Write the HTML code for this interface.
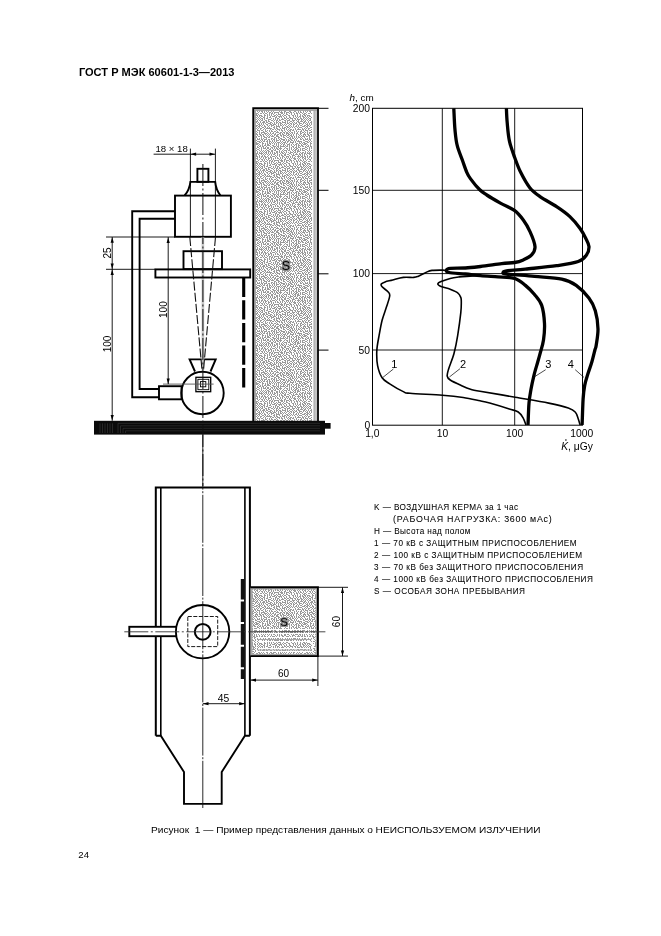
<!DOCTYPE html>
<html><head><meta charset="utf-8">
<style>
html,body{margin:0;padding:0;background:#fff;}
body{width:661px;height:936px;overflow:hidden;}
svg{display:block;will-change:transform;font-family:"Liberation Sans",sans-serif;}
text{fill:#000;}
</style></head><body>
<svg width="661" height="936" viewBox="0 0 661 936">
<defs>
<pattern id="dith" x="0" y="0" width="48" height="48" patternUnits="userSpaceOnUse">
<rect width="48" height="48" fill="#fff"/>
<path fill="#999999" d="M0 0h2v1h-2zM3 0h1v1h-1zM5 0h1v1h-1zM7 0h2v1h-2zM10 0h1v1h-1zM13 0h1v1h-1zM15 0h3v1h-3zM19 0h1v1h-1zM22 0h1v1h-1zM25 0h1v1h-1zM27 0h2v1h-2zM30 0h1v1h-1zM34 0h1v1h-1zM36 0h1v1h-1zM38 0h1v1h-1zM41 0h1v1h-1zM43 0h2v1h-2zM47 0h1v1h-1zM1 1h1v1h-1zM3 1h1v1h-1zM6 1h1v1h-1zM8 1h1v1h-1zM10 1h2v1h-2zM13 1h2v1h-2zM18 1h1v1h-1zM20 1h1v1h-1zM22 1h1v1h-1zM24 1h2v1h-2zM27 1h3v1h-3zM32 1h2v1h-2zM36 1h1v1h-1zM38 1h1v1h-1zM40 1h1v1h-1zM43 1h1v1h-1zM45 1h1v1h-1zM47 1h1v1h-1zM1 2h1v1h-1zM4 2h2v1h-2zM8 2h1v1h-1zM10 2h1v1h-1zM12 2h1v1h-1zM14 2h2v1h-2zM17 2h1v1h-1zM19 2h2v1h-2zM22 2h2v1h-2zM26 2h1v1h-1zM30 2h1v1h-1zM33 2h3v1h-3zM37 2h2v1h-2zM40 2h5v1h-5zM46 2h2v1h-2zM1 3h1v1h-1zM3 3h1v1h-1zM5 3h1v1h-1zM7 3h2v1h-2zM10 3h2v1h-2zM17 3h2v1h-2zM21 3h1v1h-1zM23 3h1v1h-1zM25 3h1v1h-1zM27 3h2v1h-2zM31 3h2v1h-2zM34 3h1v1h-1zM36 3h1v1h-1zM38 3h1v1h-1zM40 3h1v1h-1zM45 3h1v1h-1zM1 4h1v1h-1zM3 4h1v1h-1zM6 4h1v1h-1zM8 4h2v1h-2zM12 4h1v1h-1zM14 4h3v1h-3zM19 4h1v1h-1zM21 4h1v1h-1zM23 4h3v1h-3zM27 4h2v1h-2zM30 4h1v1h-1zM32 4h1v1h-1zM34 4h1v1h-1zM36 4h2v1h-2zM39 4h3v1h-3zM44 4h1v1h-1zM46 4h2v1h-2zM1 5h1v1h-1zM3 5h1v1h-1zM5 5h1v1h-1zM7 5h2v1h-2zM10 5h1v1h-1zM12 5h1v1h-1zM14 5h1v1h-1zM17 5h2v1h-2zM21 5h1v1h-1zM26 5h1v1h-1zM29 5h2v1h-2zM33 5h1v1h-1zM35 5h1v1h-1zM37 5h2v1h-2zM40 5h1v1h-1zM43 5h1v1h-1zM47 5h1v1h-1zM0 6h2v1h-2zM4 6h1v1h-1zM6 6h2v1h-2zM9 6h2v1h-2zM12 6h1v1h-1zM14 6h3v1h-3zM19 6h1v1h-1zM21 6h1v1h-1zM23 6h1v1h-1zM25 6h1v1h-1zM27 6h2v1h-2zM31 6h2v1h-2zM34 6h2v1h-2zM39 6h1v1h-1zM42 6h1v1h-1zM44 6h3v1h-3zM2 7h1v1h-1zM5 7h1v1h-1zM7 7h1v1h-1zM9 7h3v1h-3zM17 7h1v1h-1zM20 7h1v1h-1zM22 7h1v1h-1zM24 7h1v1h-1zM26 7h1v1h-1zM28 7h2v1h-2zM31 7h2v1h-2zM36 7h2v1h-2zM39 7h1v1h-1zM41 7h1v1h-1zM43 7h1v1h-1zM46 7h1v1h-1zM0 8h1v1h-1zM2 8h3v1h-3zM6 8h2v1h-2zM9 8h1v1h-1zM12 8h1v1h-1zM14 8h2v1h-2zM17 8h1v1h-1zM19 8h1v1h-1zM21 8h1v1h-1zM23 8h1v1h-1zM25 8h2v1h-2zM28 8h1v1h-1zM30 8h1v1h-1zM32 8h1v1h-1zM34 8h1v1h-1zM36 8h2v1h-2zM39 8h1v1h-1zM41 8h2v1h-2zM44 8h1v1h-1zM46 8h1v1h-1zM1 9h2v1h-2zM5 9h1v1h-1zM8 9h1v1h-1zM11 9h1v1h-1zM13 9h2v1h-2zM16 9h2v1h-2zM19 9h4v1h-4zM24 9h1v1h-1zM26 9h1v1h-1zM28 9h1v1h-1zM30 9h1v1h-1zM32 9h1v1h-1zM34 9h2v1h-2zM37 9h1v1h-1zM40 9h1v1h-1zM42 9h2v1h-2zM45 9h1v1h-1zM0 10h1v1h-1zM3 10h1v1h-1zM5 10h1v1h-1zM7 10h3v1h-3zM11 10h2v1h-2zM14 10h1v1h-1zM16 10h1v1h-1zM18 10h1v1h-1zM21 10h1v1h-1zM23 10h1v1h-1zM25 10h1v1h-1zM27 10h1v1h-1zM29 10h1v1h-1zM31 10h1v1h-1zM33 10h2v1h-2zM37 10h1v1h-1zM39 10h1v1h-1zM41 10h1v1h-1zM44 10h2v1h-2zM47 10h1v1h-1zM1 11h1v1h-1zM4 11h3v1h-3zM10 11h1v1h-1zM12 11h1v1h-1zM14 11h1v1h-1zM16 11h1v1h-1zM19 11h1v1h-1zM22 11h1v1h-1zM24 11h1v1h-1zM28 11h1v1h-1zM31 11h1v1h-1zM35 11h1v1h-1zM37 11h1v1h-1zM39 11h1v1h-1zM41 11h2v1h-2zM44 11h2v1h-2zM0 12h1v1h-1zM2 12h1v1h-1zM4 12h1v1h-1zM7 12h1v1h-1zM9 12h3v1h-3zM13 12h2v1h-2zM16 12h2v1h-2zM19 12h1v1h-1zM21 12h2v1h-2zM24 12h2v1h-2zM27 12h1v1h-1zM30 12h1v1h-1zM32 12h3v1h-3zM36 12h1v1h-1zM39 12h1v1h-1zM42 12h2v1h-2zM46 12h2v1h-2zM0 13h1v1h-1zM2 13h1v1h-1zM4 13h1v1h-1zM6 13h1v1h-1zM10 13h1v1h-1zM12 13h1v1h-1zM14 13h2v1h-2zM17 13h1v1h-1zM19 13h1v1h-1zM21 13h1v1h-1zM23 13h1v1h-1zM25 13h2v1h-2zM28 13h1v1h-1zM30 13h2v1h-2zM35 13h1v1h-1zM37 13h1v1h-1zM40 13h1v1h-1zM42 13h1v1h-1zM44 13h1v1h-1zM46 13h1v1h-1zM1 14h1v1h-1zM3 14h1v1h-1zM5 14h3v1h-3zM9 14h1v1h-1zM11 14h1v1h-1zM14 14h1v1h-1zM16 14h2v1h-2zM20 14h1v1h-1zM23 14h1v1h-1zM25 14h1v1h-1zM28 14h2v1h-2zM31 14h1v1h-1zM33 14h1v1h-1zM35 14h1v1h-1zM37 14h2v1h-2zM40 14h1v1h-1zM42 14h1v1h-1zM45 14h1v1h-1zM47 14h1v1h-1zM1 15h2v1h-2zM6 15h2v1h-2zM10 15h1v1h-1zM12 15h1v1h-1zM15 15h1v1h-1zM17 15h1v1h-1zM19 15h1v1h-1zM21 15h2v1h-2zM24 15h1v1h-1zM26 15h1v1h-1zM28 15h1v1h-1zM31 15h1v1h-1zM33 15h1v1h-1zM39 15h1v1h-1zM41 15h1v1h-1zM44 15h2v1h-2zM0 16h1v1h-1zM2 16h2v1h-2zM5 16h1v1h-1zM8 16h1v1h-1zM10 16h1v1h-1zM12 16h2v1h-2zM15 16h1v1h-1zM18 16h1v1h-1zM22 16h1v1h-1zM24 16h1v1h-1zM27 16h1v1h-1zM29 16h2v1h-2zM32 16h1v1h-1zM34 16h5v1h-5zM40 16h3v1h-3zM44 16h1v1h-1zM46 16h2v1h-2zM1 17h1v1h-1zM3 17h1v1h-1zM6 17h1v1h-1zM8 17h2v1h-2zM11 17h1v1h-1zM14 17h1v1h-1zM16 17h2v1h-2zM20 17h2v1h-2zM23 17h1v1h-1zM25 17h2v1h-2zM29 17h1v1h-1zM31 17h2v1h-2zM34 17h1v1h-1zM38 17h1v1h-1zM41 17h2v1h-2zM44 17h1v1h-1zM46 17h1v1h-1zM3 18h1v1h-1zM6 18h1v1h-1zM9 18h1v1h-1zM12 18h1v1h-1zM15 18h2v1h-2zM18 18h1v1h-1zM24 18h1v1h-1zM27 18h1v1h-1zM29 18h1v1h-1zM31 18h1v1h-1zM33 18h1v1h-1zM36 18h1v1h-1zM38 18h3v1h-3zM43 18h1v1h-1zM46 18h2v1h-2zM0 19h2v1h-2zM4 19h2v1h-2zM7 19h1v1h-1zM9 19h1v1h-1zM12 19h1v1h-1zM14 19h1v1h-1zM16 19h2v1h-2zM19 19h3v1h-3zM24 19h2v1h-2zM27 19h1v1h-1zM29 19h1v1h-1zM31 19h1v1h-1zM34 19h2v1h-2zM37 19h1v1h-1zM40 19h1v1h-1zM42 19h1v1h-1zM44 19h2v1h-2zM1 20h1v1h-1zM5 20h1v1h-1zM7 20h1v1h-1zM9 20h1v1h-1zM11 20h2v1h-2zM14 20h2v1h-2zM17 20h1v1h-1zM19 20h1v1h-1zM21 20h2v1h-2zM24 20h1v1h-1zM27 20h1v1h-1zM30 20h1v1h-1zM32 20h3v1h-3zM36 20h1v1h-1zM38 20h4v1h-4zM43 20h1v1h-1zM46 20h1v1h-1zM1 21h2v1h-2zM5 21h1v1h-1zM8 21h1v1h-1zM10 21h1v1h-1zM12 21h1v1h-1zM15 21h2v1h-2zM18 21h1v1h-1zM20 21h1v1h-1zM23 21h2v1h-2zM27 21h1v1h-1zM29 21h2v1h-2zM35 21h2v1h-2zM39 21h1v1h-1zM41 21h1v1h-1zM44 21h1v1h-1zM46 21h1v1h-1zM0 22h1v1h-1zM2 22h3v1h-3zM6 22h2v1h-2zM9 22h1v1h-1zM12 22h2v1h-2zM15 22h1v1h-1zM17 22h1v1h-1zM19 22h1v1h-1zM21 22h2v1h-2zM24 22h1v1h-1zM26 22h2v1h-2zM31 22h1v1h-1zM33 22h1v1h-1zM35 22h1v1h-1zM37 22h2v1h-2zM42 22h1v1h-1zM44 22h2v1h-2zM47 22h1v1h-1zM1 23h1v1h-1zM4 23h1v1h-1zM7 23h1v1h-1zM9 23h3v1h-3zM13 23h2v1h-2zM16 23h1v1h-1zM18 23h1v1h-1zM20 23h1v1h-1zM22 23h1v1h-1zM24 23h1v1h-1zM28 23h3v1h-3zM33 23h1v1h-1zM35 23h1v1h-1zM37 23h1v1h-1zM39 23h1v1h-1zM41 23h3v1h-3zM46 23h1v1h-1zM0 24h2v1h-2zM4 24h3v1h-3zM8 24h1v1h-1zM10 24h1v1h-1zM13 24h1v1h-1zM15 24h1v1h-1zM17 24h1v1h-1zM19 24h1v1h-1zM21 24h2v1h-2zM25 24h2v1h-2zM28 24h1v1h-1zM31 24h2v1h-2zM34 24h1v1h-1zM36 24h2v1h-2zM39 24h2v1h-2zM44 24h2v1h-2zM47 24h1v1h-1zM2 25h2v1h-2zM5 25h1v1h-1zM9 25h2v1h-2zM12 25h3v1h-3zM16 25h2v1h-2zM20 25h1v1h-1zM23 25h2v1h-2zM26 25h1v1h-1zM28 25h2v1h-2zM33 25h1v1h-1zM36 25h1v1h-1zM38 25h1v1h-1zM42 25h1v1h-1zM45 25h1v1h-1zM47 25h1v1h-1zM1 26h1v1h-1zM4 26h1v1h-1zM6 26h1v1h-1zM8 26h1v1h-1zM10 26h2v1h-2zM15 26h2v1h-2zM18 26h1v1h-1zM20 26h1v1h-1zM22 26h3v1h-3zM26 26h2v1h-2zM30 26h2v1h-2zM34 26h1v1h-1zM36 26h2v1h-2zM39 26h2v1h-2zM42 26h4v1h-4zM47 26h1v1h-1zM0 27h1v1h-1zM2 27h2v1h-2zM5 27h1v1h-1zM7 27h2v1h-2zM11 27h3v1h-3zM15 27h1v1h-1zM17 27h1v1h-1zM19 27h1v1h-1zM21 27h1v1h-1zM23 27h1v1h-1zM25 27h1v1h-1zM28 27h3v1h-3zM32 27h1v1h-1zM34 27h1v1h-1zM36 27h1v1h-1zM38 27h1v1h-1zM40 27h2v1h-2zM45 27h1v1h-1zM47 27h1v1h-1zM1 28h1v1h-1zM3 28h1v1h-1zM5 28h2v1h-2zM9 28h1v1h-1zM11 28h1v1h-1zM14 28h1v1h-1zM18 28h2v1h-2zM21 28h1v1h-1zM23 28h1v1h-1zM26 28h2v1h-2zM30 28h2v1h-2zM33 28h3v1h-3zM38 28h1v1h-1zM40 28h1v1h-1zM42 28h1v1h-1zM44 28h1v1h-1zM46 28h1v1h-1zM0 29h1v1h-1zM2 29h1v1h-1zM5 29h1v1h-1zM8 29h1v1h-1zM10 29h1v1h-1zM12 29h2v1h-2zM16 29h2v1h-2zM19 29h2v1h-2zM22 29h1v1h-1zM24 29h1v1h-1zM27 29h1v1h-1zM29 29h1v1h-1zM31 29h3v1h-3zM36 29h1v1h-1zM38 29h1v1h-1zM40 29h2v1h-2zM43 29h1v1h-1zM45 29h1v1h-1zM1 30h1v1h-1zM3 30h1v1h-1zM5 30h1v1h-1zM7 30h2v1h-2zM10 30h1v1h-1zM14 30h3v1h-3zM18 30h2v1h-2zM21 30h1v1h-1zM24 30h2v1h-2zM28 30h1v1h-1zM31 30h1v1h-1zM34 30h1v1h-1zM36 30h4v1h-4zM42 30h1v1h-1zM46 30h2v1h-2zM0 31h1v1h-1zM2 31h1v1h-1zM4 31h1v1h-1zM6 31h1v1h-1zM9 31h1v1h-1zM11 31h3v1h-3zM17 31h1v1h-1zM19 31h1v1h-1zM22 31h2v1h-2zM25 31h1v1h-1zM27 31h1v1h-1zM29 31h1v1h-1zM33 31h2v1h-2zM36 31h1v1h-1zM39 31h1v1h-1zM42 31h1v1h-1zM44 31h2v1h-2zM47 31h1v1h-1zM1 32h1v1h-1zM7 32h1v1h-1zM10 32h1v1h-1zM14 32h1v1h-1zM16 32h1v1h-1zM18 32h1v1h-1zM20 32h2v1h-2zM24 32h1v1h-1zM26 32h6v1h-6zM34 32h1v1h-1zM36 32h2v1h-2zM40 32h1v1h-1zM42 32h3v1h-3zM46 32h1v1h-1zM0 33h1v1h-1zM2 33h2v1h-2zM5 33h1v1h-1zM7 33h1v1h-1zM9 33h4v1h-4zM14 33h2v1h-2zM17 33h1v1h-1zM20 33h1v1h-1zM23 33h1v1h-1zM25 33h1v1h-1zM30 33h1v1h-1zM32 33h2v1h-2zM35 33h1v1h-1zM37 33h3v1h-3zM41 33h1v1h-1zM44 33h1v1h-1zM46 33h1v1h-1zM1 34h2v1h-2zM4 34h2v1h-2zM8 34h1v1h-1zM13 34h1v1h-1zM15 34h1v1h-1zM17 34h3v1h-3zM21 34h2v1h-2zM25 34h1v1h-1zM27 34h1v1h-1zM29 34h1v1h-1zM31 34h1v1h-1zM36 34h1v1h-1zM39 34h1v1h-1zM41 34h2v1h-2zM44 34h1v1h-1zM47 34h1v1h-1zM0 35h1v1h-1zM2 35h1v1h-1zM6 35h1v1h-1zM8 35h1v1h-1zM10 35h1v1h-1zM12 35h2v1h-2zM16 35h1v1h-1zM19 35h1v1h-1zM23 35h1v1h-1zM25 35h2v1h-2zM29 35h1v1h-1zM31 35h2v1h-2zM34 35h2v1h-2zM37 35h1v1h-1zM42 35h1v1h-1zM45 35h1v1h-1zM1 36h1v1h-1zM3 36h2v1h-2zM6 36h1v1h-1zM9 36h1v1h-1zM12 36h1v1h-1zM14 36h2v1h-2zM17 36h1v1h-1zM19 36h1v1h-1zM21 36h4v1h-4zM27 36h1v1h-1zM30 36h1v1h-1zM33 36h1v1h-1zM36 36h3v1h-3zM40 36h2v1h-2zM43 36h2v1h-2zM46 36h2v1h-2zM0 37h1v1h-1zM2 37h1v1h-1zM4 37h1v1h-1zM6 37h1v1h-1zM8 37h2v1h-2zM12 37h2v1h-2zM16 37h1v1h-1zM19 37h1v1h-1zM21 37h1v1h-1zM24 37h3v1h-3zM28 37h1v1h-1zM30 37h1v1h-1zM32 37h2v1h-2zM35 37h1v1h-1zM39 37h2v1h-2zM42 37h1v1h-1zM44 37h1v1h-1zM46 37h2v1h-2zM0 38h2v1h-2zM3 38h1v1h-1zM5 38h1v1h-1zM8 38h1v1h-1zM10 38h1v1h-1zM12 38h1v1h-1zM15 38h3v1h-3zM19 38h2v1h-2zM22 38h2v1h-2zM25 38h1v1h-1zM27 38h1v1h-1zM29 38h1v1h-1zM31 38h1v1h-1zM34 38h2v1h-2zM37 38h2v1h-2zM40 38h1v1h-1zM42 38h2v1h-2zM46 38h1v1h-1zM0 39h1v1h-1zM2 39h2v1h-2zM5 39h1v1h-1zM8 39h1v1h-1zM11 39h1v1h-1zM13 39h1v1h-1zM15 39h1v1h-1zM17 39h1v1h-1zM20 39h2v1h-2zM23 39h1v1h-1zM26 39h1v1h-1zM28 39h1v1h-1zM30 39h1v1h-1zM32 39h1v1h-1zM34 39h1v1h-1zM36 39h2v1h-2zM40 39h2v1h-2zM43 39h3v1h-3zM47 39h1v1h-1zM1 40h1v1h-1zM3 40h2v1h-2zM6 40h1v1h-1zM8 40h1v1h-1zM10 40h1v1h-1zM12 40h1v1h-1zM14 40h3v1h-3zM18 40h2v1h-2zM21 40h1v1h-1zM23 40h2v1h-2zM27 40h1v1h-1zM29 40h1v1h-1zM31 40h3v1h-3zM36 40h3v1h-3zM41 40h1v1h-1zM43 40h1v1h-1zM46 40h1v1h-1zM0 41h1v1h-1zM2 41h1v1h-1zM4 41h1v1h-1zM6 41h1v1h-1zM8 41h1v1h-1zM10 41h2v1h-2zM13 41h1v1h-1zM16 41h1v1h-1zM21 41h1v1h-1zM24 41h3v1h-3zM28 41h2v1h-2zM34 41h2v1h-2zM38 41h2v1h-2zM43 41h2v1h-2zM47 41h1v1h-1zM1 42h2v1h-2zM4 42h2v1h-2zM7 42h1v1h-1zM9 42h1v1h-1zM12 42h1v1h-1zM14 42h1v1h-1zM17 42h1v1h-1zM19 42h1v1h-1zM21 42h1v1h-1zM23 42h1v1h-1zM26 42h1v1h-1zM31 42h2v1h-2zM34 42h1v1h-1zM36 42h1v1h-1zM38 42h1v1h-1zM40 42h2v1h-2zM45 42h1v1h-1zM0 43h1v1h-1zM2 43h2v1h-2zM6 43h1v1h-1zM8 43h1v1h-1zM12 43h2v1h-2zM15 43h1v1h-1zM17 43h3v1h-3zM21 43h2v1h-2zM24 43h3v1h-3zM28 43h2v1h-2zM31 43h1v1h-1zM33 43h2v1h-2zM36 43h1v1h-1zM39 43h1v1h-1zM41 43h4v1h-4zM46 43h1v1h-1zM0 44h2v1h-2zM3 44h2v1h-2zM6 44h1v1h-1zM8 44h1v1h-1zM10 44h1v1h-1zM15 44h2v1h-2zM20 44h1v1h-1zM22 44h1v1h-1zM24 44h1v1h-1zM27 44h1v1h-1zM29 44h1v1h-1zM32 44h1v1h-1zM34 44h1v1h-1zM36 44h3v1h-3zM40 44h1v1h-1zM43 44h2v1h-2zM46 44h1v1h-1zM0 45h1v1h-1zM2 45h1v1h-1zM5 45h1v1h-1zM7 45h1v1h-1zM9 45h5v1h-5zM17 45h3v1h-3zM21 45h1v1h-1zM23 45h2v1h-2zM26 45h2v1h-2zM29 45h2v1h-2zM32 45h1v1h-1zM34 45h1v1h-1zM36 45h1v1h-1zM40 45h1v1h-1zM42 45h1v1h-1zM45 45h1v1h-1zM47 45h1v1h-1zM2 46h4v1h-4zM7 46h1v1h-1zM11 46h1v1h-1zM13 46h1v1h-1zM15 46h2v1h-2zM19 46h2v1h-2zM22 46h1v1h-1zM27 46h1v1h-1zM29 46h1v1h-1zM31 46h1v1h-1zM33 46h1v1h-1zM35 46h1v1h-1zM37 46h3v1h-3zM41 46h1v1h-1zM43 46h3v1h-3zM47 46h1v1h-1zM1 47h1v1h-1zM4 47h1v1h-1zM8 47h2v1h-2zM11 47h2v1h-2zM14 47h1v1h-1zM16 47h3v1h-3zM22 47h2v1h-2zM25 47h1v1h-1zM27 47h1v1h-1zM29 47h2v1h-2zM32 47h1v1h-1zM34 47h1v1h-1zM36 47h1v1h-1zM38 47h1v1h-1zM40 47h1v1h-1zM42 47h1v1h-1zM44 47h1v1h-1zM46 47h1v1h-1z"/>
</pattern>
</defs>
<text x="78.9" y="76.3" font-size="11.1" font-weight="bold" textLength="155.6" lengthAdjust="spacingAndGlyphs">ГОСТ Р МЭК 60601-1-3—2013</text>
<text x="78.3" y="857.9" font-size="9.6">24</text>
<text x="151" y="833.4" font-size="8.8" textLength="222" lengthAdjust="spacingAndGlyphs" xml:space="preserve">Рисунок  1 — Пример представления данных о</text>
<text x="375.6" y="833.4" font-size="8.8" textLength="165" lengthAdjust="spacingAndGlyphs">НЕИСПОЛЬЗУЕМОМ ИЗЛУЧЕНИИ</text>
<rect x="254" y="109" width="63" height="312" fill="#a6a6a6"/>
<rect x="256" y="111" width="56" height="310" fill="url(#dith)"/>
<rect x="312" y="111" width="1.5" height="310" fill="#fff"/>
<rect x="314.5" y="111" width="2.5" height="310" fill="#c4c4c4"/>
<path d="M253.2,421 V108.2 H318 V421" fill="none" stroke="#000" stroke-width="1.8"/>
<line x1="318" y1="108.3" x2="328.5" y2="108.3" stroke="#000" stroke-width="1"/>
<line x1="318" y1="190.3" x2="328.5" y2="190.3" stroke="#000" stroke-width="1"/>
<line x1="318" y1="273.8" x2="328.5" y2="273.8" stroke="#000" stroke-width="1"/>
<line x1="318" y1="350.1" x2="328.5" y2="350.1" stroke="#000" stroke-width="1"/>
<text x="281.8" y="269.5" font-size="12.5" fill="#000" stroke="#8a8a8a" stroke-width="2.4" paint-order="stroke" stroke-linejoin="round">S</text>
<rect x="94" y="420.8" width="231" height="13.8" fill="#0a0a0a"/>
<rect x="324" y="423" width="6.6" height="5.7" fill="#0a0a0a"/>
<path d="M118.0,423.3 H320 M118.0,423.3 V433 M120.5,425.8 H320 M120.5,425.8 V433 M123.0,428.3 H320 M123.0,428.3 V433 M125.5,430.8 H320 M125.5,430.8 V433 M100.0,423.3 V433 M102.5,423.3 V433 M105.0,423.3 V433 M107.5,423.3 V433 M110.0,423.3 V433 M112.5,423.3 V433" stroke="#3a3a3a" stroke-width="0.6" fill="none"/>
<rect x="197.4" y="168.8" width="11" height="13" stroke="#000" stroke-width="1.9" fill="none"/>
<path d="M184.6,195.5 Q189.5,190 190.4,181.9 H215.2 Q216,190 220.5,195.5" stroke="#000" stroke-width="1.9" fill="none"/>
<rect x="175" y="195.6" width="55.9" height="41.2" stroke="#000" stroke-width="1.9" fill="none"/>
<path d="M175,211.2 H132.2 V397.3 H159" stroke="#000" stroke-width="1.9" fill="none"/>
<path d="M175,218.7 H139.6 V389 H159" stroke="#000" stroke-width="1.9" fill="none"/>
<rect x="159" y="386.2" width="22.6" height="13.1" stroke="#000" stroke-width="1.9" fill="none"/>
<circle cx="202.5" cy="393" r="21.2" stroke="#000" stroke-width="1.9" fill="none"/>
<path d="M195,371.5 L189.6,359.4 H215.7 L210.5,371.5" stroke="#000" stroke-width="1.9" fill="none"/>
<rect x="195.9" y="377.3" width="14.8" height="14.4" stroke="#000" stroke-width="1.3" fill="none"/>
<rect x="197.9" y="379.3" width="10.9" height="10.4" stroke="#000" stroke-width="0.9" fill="none"/>
<rect x="200.5" y="381.6" width="5.3" height="5.2" stroke="#000" stroke-width="0.9" fill="none"/>
<line x1="163" y1="384.1" x2="213.6" y2="384.1" stroke="#555" stroke-width="0.9"/>
<line x1="202.9" y1="237" x2="202.9" y2="370" stroke="#c8c8c8" stroke-width="2.6"/>
<rect x="183.5" y="251.2" width="38.5" height="17.9" stroke="#000" stroke-width="1.9" fill="none"/>
<rect x="155.4" y="269.4" width="94.8" height="8.1" stroke="#000" stroke-width="1.9" fill="none"/>
<line x1="190.4" y1="148.6" x2="190.4" y2="237" stroke="#000" stroke-width="0.9" fill="none"/>
<line x1="215.4" y1="148.6" x2="215.4" y2="237" stroke="#000" stroke-width="0.9" fill="none"/>
<line x1="189.8" y1="237" x2="202" y2="370" stroke="#111" stroke-width="1.1" stroke-dasharray="9 2.2"/>
<line x1="215.5" y1="237" x2="203.5" y2="370" stroke="#111" stroke-width="1.1" stroke-dasharray="9 2.2"/>
<line x1="202.9" y1="164" x2="202.9" y2="486" stroke="#111" stroke-width="1" stroke-dasharray="22 2.5 2 2.5"/>
<line x1="243.7" y1="277.7" x2="243.7" y2="388" stroke="#000" stroke-width="3.1" stroke-dasharray="19.3 3.3"/>
<line x1="153.6" y1="154.2" x2="215.2" y2="154.2" stroke="#000" stroke-width="0.9" fill="none"/>
<polygon points="190.6,154.2 196.1,152.6 196.1,155.8" fill="#000"/>
<polygon points="215.0,154.2 209.5,152.6 209.5,155.8" fill="#000"/>
<text x="155.5" y="151.8" font-size="9.6">18 × 18</text>
<line x1="106" y1="237" x2="175" y2="237" stroke="#000" stroke-width="0.9" fill="none"/>
<line x1="106" y1="269.3" x2="155.4" y2="269.3" stroke="#000" stroke-width="0.9" fill="none"/>
<line x1="112.2" y1="237" x2="112.2" y2="420.8" stroke="#000" stroke-width="0.9" fill="none"/>
<polygon points="112.2,237.2 110.6,242.7 113.8,242.7" fill="#000"/>
<polygon points="112.2,269.1 110.6,263.6 113.8,263.6" fill="#000"/>
<polygon points="112.2,269.6 110.6,275.1 113.8,275.1" fill="#000"/>
<polygon points="112.2,420.6 110.6,415.1 113.8,415.1" fill="#000"/>
<line x1="168.2" y1="237" x2="168.2" y2="384.1" stroke="#000" stroke-width="0.9" fill="none"/>
<polygon points="168.2,237.4 166.6,242.9 169.8,242.9" fill="#000"/>
<polygon points="168.2,384.0 166.6,378.5 169.8,378.5" fill="#000"/>
<text transform="translate(111,253) rotate(-90)" font-size="10" text-anchor="middle">25</text>
<text transform="translate(111,344) rotate(-90)" font-size="10" text-anchor="middle">100</text>
<text transform="translate(166.5,309.6) rotate(-90)" font-size="10" text-anchor="middle">100</text>
<rect x="372.5" y="108.3" width="210" height="316.9" fill="none" stroke="#000" stroke-width="1"/>
<line x1="442.3" y1="108.3" x2="442.3" y2="425.2" stroke="#000" stroke-width="0.9"/>
<line x1="514.7" y1="108.3" x2="514.7" y2="425.2" stroke="#000" stroke-width="0.9"/>
<line x1="372.5" y1="190.3" x2="582.5" y2="190.3" stroke="#000" stroke-width="0.9"/>
<line x1="372.5" y1="273.6" x2="582.5" y2="273.6" stroke="#000" stroke-width="0.9"/>
<line x1="372.5" y1="350.0" x2="582.5" y2="350.0" stroke="#000" stroke-width="0.9"/>
<path d="M453.8,108.3 C454.0,111.9 454.4,123.8 455.0,130.0 C455.6,136.2 455.9,140.3 457.2,145.4 C458.4,150.5 460.9,156.0 462.5,160.5 C464.1,165.0 465.5,169.3 466.8,172.3 C468.1,175.3 468.3,175.7 470.4,178.6 C472.5,181.5 476.8,186.8 479.5,189.5 C482.2,192.2 483.3,192.7 486.8,195.0 C490.3,197.3 495.8,200.5 500.4,203.1 C505.0,205.7 510.6,207.6 514.4,210.4 C518.2,213.2 520.7,216.5 523.3,220.0 C525.9,223.5 528.0,227.2 530.0,231.6 C532.0,236.0 534.7,242.7 535.0,246.6 C535.3,250.5 533.6,252.7 531.6,254.9 C529.6,257.1 526.1,258.6 523.3,259.9 C520.4,261.2 518.1,261.9 514.5,262.5 C510.9,263.1 507.4,262.9 501.7,263.6 C496.0,264.3 486.6,265.8 480.5,266.5 C474.4,267.2 470.4,267.7 465.4,268.0 C460.4,268.3 453.4,268.0 450.3,268.3 C447.2,268.6 446.7,269.3 446.5,270.0 C446.3,270.7 445.9,271.8 449.0,272.5 C452.1,273.2 460.1,273.5 465.4,274.0 C470.6,274.5 475.1,275.2 480.5,275.7 C485.9,276.2 492.3,276.4 498.0,276.8 C503.7,277.2 509.9,277.0 514.5,278.4 C519.1,279.8 522.1,282.7 525.4,285.4 C528.7,288.1 531.8,291.2 534.5,294.5 C537.2,297.8 540.0,300.6 541.7,305.4 C543.4,310.2 544.2,317.8 544.5,323.5 C544.8,329.2 544.2,335.1 543.5,339.9 C542.8,344.6 541.5,348.4 540.5,352.0 C539.5,355.6 538.9,357.9 537.8,361.8 C536.7,365.7 535.0,371.0 533.9,375.6 C532.8,380.2 531.8,384.7 531.0,389.3 C530.2,393.9 529.5,397.2 529.0,403.1 C528.5,409.1 528.2,421.4 528.0,425.0" fill="none" stroke="#000" stroke-width="3.3" stroke-linejoin="round"/>
<path d="M506.4,108.3 C506.5,110.7 506.7,117.3 507.2,122.7 C507.7,128.1 508.1,135.0 509.4,140.8 C510.6,146.6 512.8,152.2 514.7,157.5 C516.6,162.8 518.3,167.6 520.8,172.6 C523.3,177.6 526.6,183.7 529.8,187.7 C533.0,191.7 535.5,193.4 540.0,196.6 C544.5,199.8 551.6,203.3 556.6,206.6 C561.6,209.9 566.0,213.0 569.9,216.6 C573.8,220.2 577.3,224.7 579.9,228.3 C582.5,231.9 584.2,235.1 585.7,238.2 C587.2,241.2 588.9,243.8 589.0,246.6 C589.1,249.4 588.3,252.4 586.5,254.9 C584.7,257.4 583.2,259.7 578.2,261.5 C573.2,263.3 565.4,264.4 556.6,265.7 C547.8,267.0 533.8,268.2 525.4,269.1 C517.0,270.0 510.2,270.3 506.5,270.8 C502.8,271.3 503.3,271.8 503.3,272.3 C503.3,272.8 501.3,273.3 506.5,274.0 C511.7,274.7 525.3,275.4 534.5,276.3 C543.7,277.2 554.8,277.6 561.7,279.1 C568.7,280.6 571.7,282.2 576.2,285.4 C580.7,288.6 585.7,293.9 588.9,298.1 C592.1,302.3 593.8,305.7 595.3,310.8 C596.8,315.9 597.9,323.2 598.0,329.0 C598.1,334.8 596.7,341.8 596.2,345.3 C595.7,348.8 595.6,347.2 594.9,350.0 C594.2,352.8 593.0,357.9 591.9,361.8 C590.8,365.7 589.2,369.7 588.0,373.6 C586.8,377.5 585.5,381.1 584.7,385.4 C583.9,389.7 583.5,392.6 583.1,399.2 C582.7,405.8 582.3,420.7 582.1,425.0" fill="none" stroke="#000" stroke-width="3.3" stroke-linejoin="round"/>
<path d="M447.2,270.5 C446.4,270.4 445.1,270.1 442.6,270.1 C440.1,270.1 434.8,270.0 432.0,270.4 C429.2,270.8 428.3,271.4 426.0,272.4 C423.7,273.4 420.4,275.4 418.4,276.2 C416.4,277.0 416.4,277.2 413.9,277.4 C411.4,277.6 406.8,277.0 403.3,277.4 C399.8,277.8 395.7,279.2 392.7,280.0 C389.7,280.8 387.0,281.2 385.1,281.9 C383.2,282.6 381.8,283.2 381.3,284.0 C380.8,284.8 381.0,285.5 382.1,286.8 C383.2,288.1 386.9,290.5 388.2,292.0 C389.5,293.5 390.0,293.6 389.7,296.0 C389.4,298.4 387.9,302.6 386.6,306.6 C385.3,310.7 383.4,315.5 382.1,320.3 C380.9,325.1 380.0,330.4 379.1,335.4 C378.2,340.4 377.1,345.5 376.8,350.5 C376.6,355.5 376.7,361.1 377.6,365.6 C378.5,370.1 380.1,374.7 382.1,377.7 C384.1,380.7 386.2,381.5 389.7,383.8 C393.2,386.1 399.9,390.0 403.3,391.6 C406.7,393.2 403.5,392.7 410.0,393.3 C416.5,393.9 433.5,394.6 442.4,395.3 C451.3,396.0 456.9,396.6 463.2,397.5 C469.5,398.4 475.6,399.9 480.0,400.8 C484.4,401.7 484.8,401.7 489.7,403.1 C494.6,404.5 504.6,407.5 509.3,409.0 C514.1,410.5 515.9,410.5 518.2,412.0 C520.5,413.5 521.8,415.6 523.1,417.8 C524.4,420.0 525.5,423.8 526.0,425.0" fill="none" stroke="#000" stroke-width="1.6" stroke-linejoin="round"/>
<path d="M478.0,275.5 C476.7,275.6 473.1,276.0 470.0,276.2 C466.9,276.4 462.6,276.5 459.3,276.9 C456.0,277.3 453.2,277.6 450.2,278.4 C447.2,279.2 443.2,280.6 441.1,281.5 C439.0,282.4 437.8,283.2 437.8,284.0 C437.8,284.8 439.0,285.6 441.1,286.5 C443.2,287.4 447.4,288.2 450.2,289.3 C453.0,290.4 455.9,291.5 457.7,292.8 C459.5,294.1 460.2,295.9 460.8,297.4 C461.4,298.9 461.3,299.4 461.3,302.0 C461.3,304.6 461.4,307.1 460.8,312.7 C460.2,318.3 458.8,328.6 457.7,335.4 C456.6,342.2 455.5,347.9 454.0,353.5 C452.5,359.1 449.8,364.9 448.7,368.7 C447.6,372.5 446.9,374.3 447.2,376.2 C447.4,378.1 447.9,378.5 450.2,380.0 C452.5,381.5 457.5,383.8 460.8,385.3 C464.1,386.8 466.6,388.1 469.8,389.1 C473.0,390.1 472.4,390.0 480.0,391.3 C487.6,392.6 503.8,395.2 515.2,397.2 C526.7,399.2 539.9,401.3 548.7,403.1 C557.6,404.9 563.9,406.5 568.3,408.0 C572.7,409.5 573.6,410.2 575.2,412.0 C576.9,413.8 577.4,416.6 578.2,418.8 C579.0,421.0 579.8,424.0 580.1,425.0" fill="none" stroke="#000" stroke-width="1.6" stroke-linejoin="round"/>
<line x1="382.9" y1="377.4" x2="393.4" y2="369" stroke="#000" stroke-width="0.7"/>
<line x1="449.4" y1="377" x2="460" y2="368.7" stroke="#000" stroke-width="0.7"/>
<line x1="534.9" y1="376.5" x2="545.7" y2="369.7" stroke="#000" stroke-width="0.7"/>
<line x1="575.2" y1="369.7" x2="584.1" y2="377.5" stroke="#000" stroke-width="0.7"/>
<text x="391.2" y="368" font-size="11">1</text>
<text x="460.1" y="368" font-size="11">2</text>
<text x="545.3" y="368.2" font-size="11">3</text>
<text x="567.8" y="368.2" font-size="11">4</text>
<text x="370" y="111.8" font-size="10.3" text-anchor="end">200</text>
<text x="370" y="193.8" font-size="10.3" text-anchor="end">150</text>
<text x="370" y="277.1" font-size="10.3" text-anchor="end">100</text>
<text x="370" y="353.5" font-size="10.3" text-anchor="end">50</text>
<text x="370.3" y="428.8" font-size="10.3" text-anchor="end">0</text>
<text x="349.6" y="101" font-size="9.9"><tspan font-style="italic">h</tspan>, cm</text>
<text x="372.3" y="437.2" font-size="10.3" text-anchor="middle">1,0</text>
<text x="442.4" y="437.2" font-size="10.3" text-anchor="middle">10</text>
<text x="514.6" y="437.2" font-size="10.3" text-anchor="middle">100</text>
<text x="581.8" y="437.2" font-size="10.3" text-anchor="middle">1000</text>
<text x="561.2" y="449.7" font-size="10.3"><tspan font-style="italic">K</tspan>, μGy</text>
<circle cx="565.9" cy="440" r="0.8" fill="#000"/>
<text x="374.1" y="510.0" font-size="8.2" textLength="144.0" lengthAdjust="spacing" stroke="#000" stroke-width="0.06">K — ВОЗДУШНАЯ КЕРМА за 1 час</text>
<text x="393.1" y="522.0" font-size="8.9" textLength="158.6" lengthAdjust="spacing" stroke="#000" stroke-width="0.06">(РАБОЧАЯ НАГРУЗКА: 3600 мАс)</text>
<text x="374.1" y="533.6" font-size="8.2" textLength="96.2" lengthAdjust="spacing" stroke="#000" stroke-width="0.06">Н — Высота над полом</text>
<text x="374.1" y="546.0" font-size="8.2" textLength="202.5" lengthAdjust="spacing" stroke="#000" stroke-width="0.06">1 — 70 кВ с ЗАЩИТНЫМ ПРИСПОСОБЛЕНИЕМ</text>
<text x="374.1" y="558.1" font-size="8.2" textLength="207.9" lengthAdjust="spacing" stroke="#000" stroke-width="0.06">2 — 100 кВ с ЗАЩИТНЫМ ПРИСПОСОБЛЕНИЕМ</text>
<text x="374.1" y="569.9" font-size="8.2" textLength="209.0" lengthAdjust="spacing" stroke="#000" stroke-width="0.06">3 — 70 кВ без ЗАЩИТНОГО ПРИСПОСОБЛЕНИЯ</text>
<text x="374.1" y="582.1" font-size="8.2" textLength="218.8" lengthAdjust="spacing" stroke="#000" stroke-width="0.06">4 — 1000 кВ без ЗАЩИТНОГО ПРИСПОСОБЛЕНИЯ</text>
<text x="374.1" y="594.1" font-size="8.2" textLength="150.9" lengthAdjust="spacing" stroke="#000" stroke-width="0.06">S — ОСОБАЯ ЗОНА ПРЕБЫВАНИЯ</text>
<path d="M155.8,735.8 V487.4 H249.9 V735.8" stroke="#000" stroke-width="2" fill="none"/>
<path d="M160.8,735.8 V487.4 M244.9,487.4 V735.8" stroke="#000" stroke-width="1.6" fill="none"/>
<path d="M155.8,735.8 H160.8 L184,772 V803.9 H221.7 V772 L244.9,735.8 H249.9" stroke="#000" stroke-width="1.9" fill="none"/>
<line x1="242.6" y1="578.9" x2="242.6" y2="679.1" stroke="#111" stroke-width="3.6" stroke-dasharray="20.6 2"/>
<rect x="250.3" y="587.3" width="67.6" height="68.8" fill="#a8a8a8"/>
<rect x="252.5" y="589.5" width="63.2" height="64.4" fill="url(#dith)"/>
<path d="M254,629.5 H315 M254,633.5 H315 M256,637.5 H313 M256,651.5 H313 M256.5,637 V652 M312.5,637 V652 M259,641.5 H310 M259,648.5 H310" stroke="#fff" stroke-width="1" fill="none"/>
<path d="M253.5,631.5 H315 M257.5,639.5 H311.5 M257.5,650 H311.5" stroke="#a6a6a6" stroke-width="1" fill="none"/>
<path d="M250.3,587.3 H317.9 V656.1 H250.3" stroke="#000" stroke-width="1.9" fill="none"/>
<text x="280.3" y="626" font-size="11.5" fill="#000" stroke="#8a8a8a" stroke-width="2.2" paint-order="stroke" stroke-linejoin="round">S</text>
<rect x="129.3" y="626.8" width="47.5" height="9.4" fill="#fff" stroke="#000" stroke-width="1.9" fill="none"/>
<circle cx="202.6" cy="631.7" r="26.7" fill="#fff" stroke="#000" stroke-width="1.9" fill="none"/>
<rect x="187.8" y="616.5" width="29.9" height="30.1" stroke="#000" stroke-width="0.9" fill="none" stroke-dasharray="4 1.5"/>
<circle cx="202.7" cy="631.8" r="7.9" stroke="#000" stroke-width="2" fill="none"/>
<line x1="124.3" y1="631.8" x2="325.4" y2="631.8" stroke="#333" stroke-width="0.9" stroke-dasharray="24 2.5 2 2.5"/>
<line x1="202.8" y1="434.6" x2="202.8" y2="487.4" stroke="#111" stroke-width="0.9"/>
<line x1="202.8" y1="487.4" x2="202.8" y2="808" stroke="#111" stroke-width="0.9" stroke-dasharray="48 1.6 2 1.6" stroke-dashoffset="45.8"/>
<line x1="317.9" y1="587.3" x2="348" y2="587.3" stroke="#000" stroke-width="0.9" fill="none"/>
<line x1="317.9" y1="656.1" x2="348" y2="656.1" stroke="#000" stroke-width="0.9" fill="none"/>
<line x1="342.5" y1="587.3" x2="342.5" y2="656.1" stroke="#000" stroke-width="0.9" fill="none"/>
<polygon points="342.5,587.5 340.9,593.0 344.1,593.0" fill="#000"/>
<polygon points="342.5,655.9 340.9,650.4 344.1,650.4" fill="#000"/>
<text transform="translate(339.8,621.6) rotate(-90)" font-size="10" text-anchor="middle">60</text>
<line x1="317.9" y1="656.1" x2="317.9" y2="686" stroke="#000" stroke-width="0.9" fill="none"/>
<line x1="250.3" y1="680.1" x2="317.9" y2="680.1" stroke="#000" stroke-width="0.9" fill="none"/>
<polygon points="250.5,680.1 256.0,678.5 256.0,681.7" fill="#000"/>
<polygon points="317.7,680.1 312.2,678.5 312.2,681.7" fill="#000"/>
<text x="283.6" y="677.2" font-size="10" text-anchor="middle">60</text>
<line x1="202.8" y1="703.7" x2="244.9" y2="703.7" stroke="#000" stroke-width="0.9" fill="none"/>
<polygon points="203.0,703.7 208.5,702.1 208.5,705.3" fill="#000"/>
<polygon points="244.7,703.7 239.2,702.1 239.2,705.3" fill="#000"/>
<text x="223.5" y="702" font-size="10.3" text-anchor="middle">45</text>
</svg>
</body></html>
